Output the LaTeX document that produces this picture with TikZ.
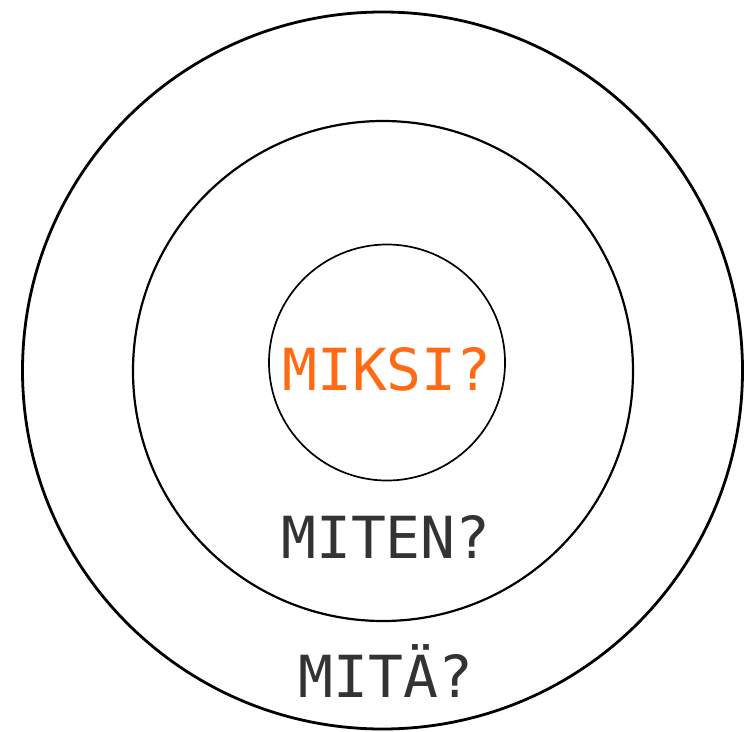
\documentclass[tikz,border=0pt]{standalone}
\usepackage{fontspec}
\newfontfamily\monofont{DejaVu Sans Mono}
\definecolor{orng}{HTML}{FF6A13}
\definecolor{dgray}{HTML}{333333}
\tikzset{
  ring/.style={draw=black},
  lbl/.style={font=\monofont\fontsize{58}{60}\selectfont, anchor=base, inner sep=0pt}
}
\begin{document}
\begin{tikzpicture}[x=1pt,y=-1pt]
\useasboundingbox (0,0) rectangle (744,731);
\draw[ring, line width=2.8pt] (382.5,370.5) ellipse (360 and 358.5);
\draw[ring, line width=2.2pt] (383,371) circle (250);
\draw[ring, line width=1.7pt] (387,362.5) circle (118);
\node[lbl, text=orng] (miksi) at (387,390) {MIKSI?};
\node[lbl, text=dgray] (miten) at (386,558) {MITEN?};
\node[lbl, text=dgray] (mita) at (386,697) {MITÄ?};
\end{tikzpicture}
\end{document}
